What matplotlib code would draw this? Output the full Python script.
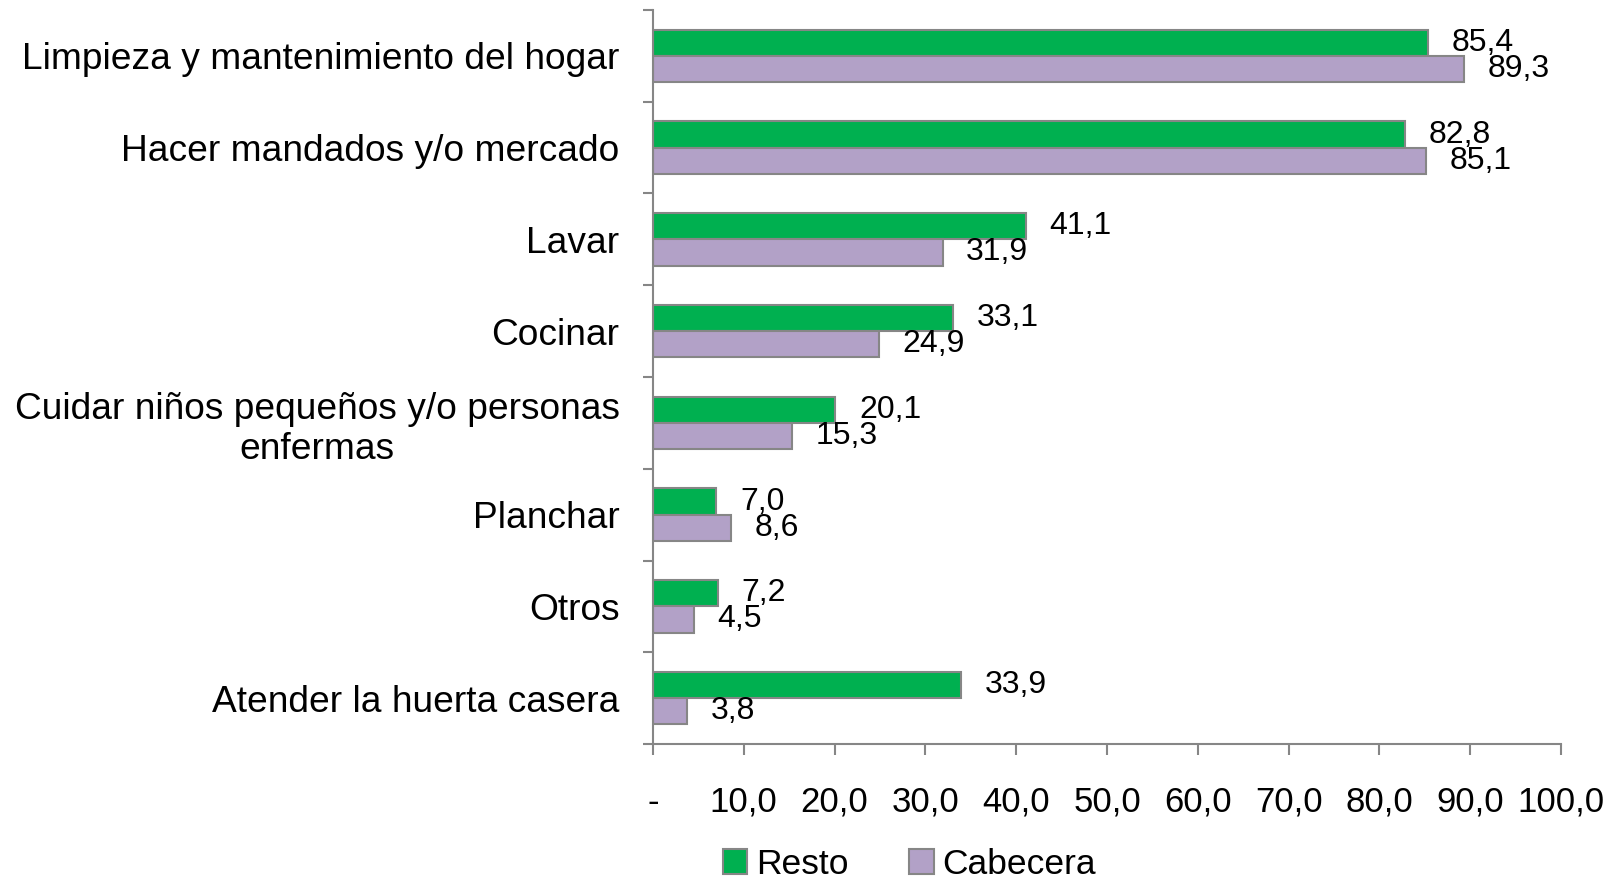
import matplotlib
matplotlib.use("Agg")
import matplotlib.pyplot as plt
import numpy as np
from matplotlib.patches import Patch

plt.rcParams['font.family'] = ['Liberation Sans', 'DejaVu Sans']

categories = [
    "Limpieza y mantenimiento del hogar",
    "Hacer mandados y/o mercado",
    "Lavar",
    "Cocinar",
    "Cuidar niños pequeños y/o personas\nenfermas",
    "Planchar",
    "Otros",
    "Atender la huerta casera",
]
resto = [85.4, 82.8, 41.1, 33.1, 20.1, 7.0, 7.2, 33.9]
cabecera = [89.3, 85.1, 31.9, 24.9, 15.3, 8.6, 4.5, 3.8]
xticks = [0, 10, 20, 30, 40, 50, 60, 70, 80, 90, 100]
xticklabels = ["-", "10,0", "20,0", "30,0", "40,0", "50,0", "60,0", "70,0", "80,0", "90,0", "100,0"]

GREEN = "#00B050"
PURPLE = "#B2A1C7"
EDGE = "#868686"

fig = plt.figure(figsize=(16.16, 8.83), dpi=100)
ax = fig.add_axes([0.404, 0.1574, 0.562, 0.8313])

y = np.arange(len(categories))
h = 0.285
ax.barh(y - h / 2, resto, height=h, color=GREEN, edgecolor=EDGE, linewidth=1.5, label="Resto")
ax.barh(y + h / 2, cabecera, height=h, color=PURPLE, edgecolor=EDGE, linewidth=1.5, label="Cabecera")

def fmt(v):
    return f"{v:.1f}".replace(".", ",")

for yi, v in zip(y, resto):
    ax.annotate(fmt(v), xy=(v, yi - h / 2), xytext=(17, 0), textcoords="offset points",
                va="center", ha="left", fontsize=23, color="black")
for yi, v in zip(y, cabecera):
    ax.annotate(fmt(v), xy=(v, yi + h / 2), xytext=(17, 0), textcoords="offset points",
                va="center", ha="left", fontsize=23, color="black")

ax.set_ylim(len(categories) - 0.5, -0.5)
ax.set_xlim(0, 100)

ax.set_yticks(y)
ax.set_yticklabels(categories, fontsize=26.7, multialignment="center")
ax.tick_params(axis="y", which="major", length=0, pad=24)
ax.set_yticks(np.arange(-0.5, len(categories) + 0.5, 1), minor=True)
ax.tick_params(axis="y", which="minor", length=7, width=1.5, color=EDGE, direction="out")

ax.set_xticks(xticks)
ax.set_xticklabels(xticklabels, fontsize=25)
ax.tick_params(axis="x", length=8, width=1.5, color=EDGE, direction="out", pad=22)

for s in ["top", "right"]:
    ax.spines[s].set_visible(False)
for s in ["left", "bottom"]:
    ax.spines[s].set_color(EDGE)
    ax.spines[s].set_linewidth(1.5)

handles = [Patch(facecolor=GREEN, edgecolor=EDGE, linewidth=1.5, label="Resto"),
           Patch(facecolor=PURPLE, edgecolor=EDGE, linewidth=1.5, label="Cabecera")]
fig.legend(handles=handles, loc="center", bbox_to_anchor=(0.5627, 0.021), ncol=2,
           frameon=False, fontsize=25.5, handlelength=0.7, handleheight=0.7,
           handletextpad=0.25, columnspacing=1.7, borderaxespad=0)

fig.savefig("out.png", dpi=100)
